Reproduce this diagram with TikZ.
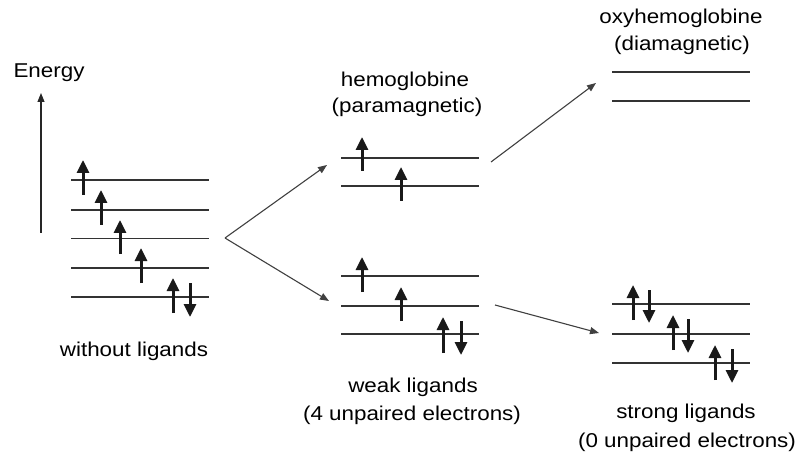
\documentclass[tikz,border=0pt]{standalone}
\usepackage{fontspec}
\setmainfont[FakeStretch=1.12]{Liberation Sans}
\usetikzlibrary{arrows.meta}
\begin{document}
\begin{tikzpicture}[x=1pt,y=-1pt,
 level/.style={line width=1.5pt, draw=black!80},
 thinlevel/.style={line width=1pt, draw=black!80},
 spin/.style={line width=3pt, draw=black!90, -{Triangle[width=12pt 0,length=13pt 0]}},
 conn/.style={line width=1.1pt, draw=black!75, -{Triangle[width=7pt 0,length=9pt 0]}},
 lbl/.style={font=\fontsize{20}{24}\selectfont, inner sep=0pt, anchor=base}]
\useasboundingbox (0,0) rectangle (795,457);

% energy axis
\node[lbl] (energy) at (49,78) {Energy};
\coordinate (eb) at (41,233);
\coordinate (et) at (41,93);
\draw[line width=1.1pt, draw=black!85, -{Triangle[width=7pt 0,length=9pt 0]}] (eb) -- (et);

% left set: without ligands
\foreach \y in {180,210,268,297} \draw[level] (71,\y) -- (209,\y);
\draw[thinlevel] (71,238) -- (209,238);
\draw[spin] (83,195) -- (83,160);
\draw[spin] (101,225) -- (101,190);
\draw[spin] (120,254) -- (120,220);
\draw[spin] (141,283) -- (141,248);
\draw[spin] (173,313) -- (173,278);
\draw[spin] (190,283) -- (190,317);
\node[lbl] (without) at (134,356) {without ligands};

% middle upper: hemoglobine
\node[lbl] (hemo) at (405,87) {hemoglobine};
\node[lbl] (para) at (407,113) {(paramagnetic)};
\foreach \y in {158,186} \draw[level] (341,\y) -- (479,\y);
\draw[spin] (362,171) -- (362,137);
\draw[spin] (401,201) -- (401,167);

% middle lower: weak ligands
\foreach \y in {276,306,334} \draw[level] (341,\y) -- (479,\y);
\draw[spin] (362,292) -- (362,257);
\draw[spin] (401,321) -- (401,287);
\draw[spin] (443,353) -- (443,317);
\draw[spin] (461,321) -- (461,355);
\node[lbl] (weak) at (413,392) {weak ligands};
\node[lbl] (weak4) at (412,420) {(4 unpaired electrons)};

% right upper: oxyhemoglobine
\node[lbl] (oxy) at (681,24) {oxyhemoglobine};
\node[lbl] (dia) at (682,51) {(diamagnetic)};
\foreach \y in {72,101} \draw[level] (612,\y) -- (750,\y);

% right lower: strong ligands
\foreach \y in {304,334,363} \draw[level] (612,\y) -- (750,\y);
\draw[spin] (633,320) -- (633,285);
\draw[spin] (649,290) -- (649,323);
\draw[spin] (673,350) -- (673,315);
\draw[spin] (688,319) -- (688,353);
\draw[spin] (715,380) -- (715,345);
\draw[spin] (732,349) -- (732,383);
\node[lbl] (strong) at (686,418) {strong ligands};
\node[lbl] (strong0) at (687,447) {(0 unpaired electrons)};

% connectors
\coordinate (fork) at (225,238);
\coordinate (toHemo) at (327,165);
\coordinate (toWeak) at (329,301);
\coordinate (fromHemo) at (491,162);
\coordinate (toOxy) at (596,83);
\coordinate (fromWeak) at (495,305);
\coordinate (toStrong) at (599,333);
\draw[conn] (fork) -- (toHemo);
\draw[conn] (fork) -- (toWeak);
\draw[conn] (fromHemo) -- (toOxy);
\draw[conn] (fromWeak) -- (toStrong);
\end{tikzpicture}
\end{document}
